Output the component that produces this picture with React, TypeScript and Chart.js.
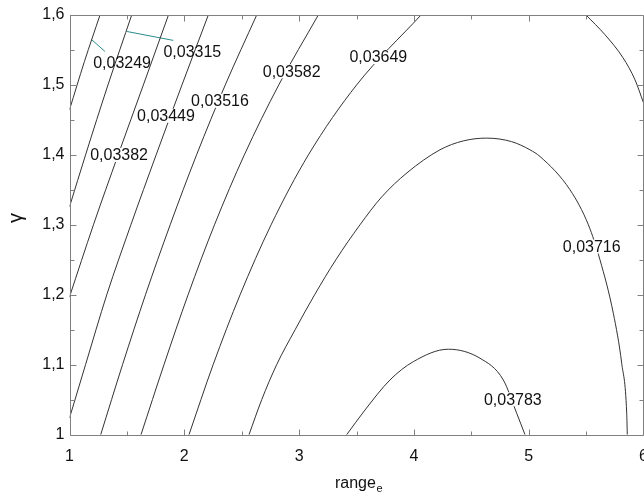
import { useEffect, useRef } from 'react';
import { Chart, registerables } from 'chart.js';

Chart.register(...registerables);

// Contour levels (labels as printed, decimal comma)
const levelLabels = ['0,03249', '0,03315', '0,03382', '0,03449', '0,03516', '0,03582', '0,03649', '0,03716', '0,03783'];

// Contour lines: [range_e, gamma] pairs
const c03249 = [[1.0, 1.4645], [1.13, 1.5335], [1.2657, 1.6]];
const c03315 = [[1.0, 1.3258], [1.14, 1.4], [1.335, 1.5], [1.5418, 1.6]];
const c03382 = [[1.0, 1.197], [1.2085, 1.3], [1.4235, 1.4], [1.6435, 1.5], [1.862, 1.6]];
const c03449 = [[1.0, 1.0239], [1.1396, 1.1], [1.3246, 1.2], [1.5346, 1.3], [1.7546, 1.4], [1.9796, 1.5], [2.2091, 1.6]];
const c03516 = [[1.2718, 1.0], [1.4618, 1.1], [1.6618, 1.2], [1.8768, 1.3], [2.1068, 1.4], [2.3568, 1.5], [2.6307, 1.6]];
const c03582 = [[1.6228, 1.0], [1.8228, 1.1], [2.0328, 1.2], [2.2628, 1.3], [2.5228, 1.4], [2.8228, 1.5], [3.1672, 1.6]];
const c03649 = [[2.0409, 1.0], [2.2509, 1.1], [2.4859, 1.2], [2.7559, 1.3], [3.0809, 1.4], [3.5009, 1.5], [4.0619, 1.6]];
const c03649b = [[5.4991, 1.6], [5.6646, 1.5718], [5.8214, 1.5389], [5.9259, 1.5074], [6.0, 1.4745]];
const c03716 = [
  [2.5636, 1.0], [2.6742, 1.05], [2.8042, 1.1], [2.965, 1.15], [3.135, 1.2], [3.32, 1.25],
  [3.53, 1.3], [3.72, 1.34], [3.9399, 1.3744], [4.2273, 1.4073], [4.43, 1.42], [4.634, 1.424],
  [4.85, 1.419], [5.0109, 1.4073], [5.0985, 1.3977], [5.3598, 1.3501], [5.52, 1.3], [5.6211, 1.2499],
  [5.7369, 1.1737], [5.8101, 1.1021], [5.8537, 1.0306], [5.8589, 1.0],
];
const c03783 = [
  [3.4146, 1.0], [3.574, 1.0353], [3.7918, 1.0783], [3.9948, 1.1044], [4.2997, 1.1222],
  [4.5758, 1.1093], [4.7787, 1.0783], [4.8955, 1.0306], [4.9678, 1.0],
];

// Leader lines for the two off-line labels
const leader03249 = [[1.193, 1.5647], [1.309, 1.5479]];
const leader03315 = [[1.4983, 1.5765], [1.9042, 1.5637]];

// Label anchor points (centres) in data units
const labelX = [1.458, 2.07, 1.432, 1.8406, 2.311, 2.9355, 3.69, 5.5488, 4.8616];
const labelY = [1.5317, 1.5483, 1.3999, 1.4559, 1.4774, 1.5193, 1.5399, 1.269, 1.0506];
const labelBreaksLine = [false, false, true, true, true, true, true, true, true];

// Axis ticks
const xMin = 1, xMax = 6, xStep = 1;
const yMin = 1, yMax = 1.6, yStep = 0.1;

const FONT = "'Liberation Sans', Arial, sans-serif";
const LINE = '#333333';
const TEAL = '#2a8c8c';
const AXIS = '#808080';

const toPts = (a: number[][]) => a.map(([x, y]) => ({ x, y }));
const fmt = (v: number) => String(Number(Number(v).toFixed(2))).replace('.', ',');

const framePlugin = {
  id: 'frame',
  afterDatasetsDraw(chart: any) {
    const { ctx, scales } = chart;
    const xs = scales.x, ys = scales.y;
    ctx.save();
    ctx.font = `16px ${FONT}`;
    ctx.textAlign = 'center';
    ctx.textBaseline = 'middle';
    levelLabels.forEach((t, i) => {
      const px = xs.getPixelForValue(labelX[i]);
      const py = ys.getPixelForValue(labelY[i]);
      if (labelBreaksLine[i]) {
        const w = ctx.measureText(t).width;
        ctx.fillStyle = '#ffffff';
        ctx.fillRect(px - w / 2 - 1, py - 7, w + 2, 14);
      }
      ctx.fillStyle = '#111111';
      ctx.fillText(t, px, py + 1);
    });
    ctx.restore();
  },
  afterDraw(chart: any) {
    const { ctx, chartArea, scales } = chart;
    const { left, right, top, bottom } = chartArea;
    const xs = scales.x, ys = scales.y;
    ctx.save();
    ctx.strokeStyle = AXIS;
    ctx.lineWidth = 1;
    const L = Math.round(left) + 0.5, R = Math.round(right) - 0.5;
    const T = Math.round(top) + 0.5, B = Math.round(bottom) + 0.5;
    ctx.beginPath();
    ctx.moveTo(L, T); ctx.lineTo(R, T); ctx.lineTo(R, B); ctx.lineTo(L, B); ctx.closePath();
    for (let i = 0; i <= (xMax - xMin) * 2; i++) {
      const v = xMin + i * 0.5;
      const px = Math.round(xs.getPixelForValue(v)) + 0.5;
      const len = i % 2 === 0 ? 6 : 4;
      ctx.moveTo(px, B); ctx.lineTo(px, B - len);
      ctx.moveTo(px, T); ctx.lineTo(px, T + len);
    }
    const ny = Math.round((yMax - yMin) / 0.05);
    for (let i = 0; i <= ny; i++) {
      const v = yMin + i * 0.05;
      const py = Math.round(ys.getPixelForValue(v)) + 0.5;
      const len = i % 2 === 0 ? 6 : 4;
      ctx.moveTo(L, py); ctx.lineTo(L + len, py);
      ctx.moveTo(R, py); ctx.lineTo(R - len, py);
    }
    ctx.stroke();

    // axis titles
    ctx.fillStyle = '#111111';
    ctx.textBaseline = 'alphabetic';
    ctx.textAlign = 'left';
    ctx.font = `16px ${FONT}`;
    const w1 = ctx.measureText('range').width;
    ctx.font = `11px ${FONT}`;
    const w2 = ctx.measureText('e').width;
    const cx = (left + right) / 2;
    const x0 = cx - (w1 + w2) / 2 + 2;
    ctx.font = `16px ${FONT}`;
    ctx.fillText('range', x0, 488);
    ctx.font = `11px ${FONT}`;
    ctx.fillText('e', x0 + w1 + 0.5, 492);

    ctx.translate(16, 218);
    ctx.rotate(-Math.PI / 2);
    ctx.textAlign = 'center';
    ctx.textBaseline = 'middle';
    ctx.font = `20px ${FONT}`;
    ctx.fillText('γ', 0, 0);
    ctx.restore();
  },
};

export default function App() {
  const ref = useRef<HTMLCanvasElement | null>(null);

  useEffect(() => {
    if (!ref.current) return;
    const line = (data: number[][], color = LINE) => ({
      data: toPts(data),
      showLine: true,
      borderColor: color,
      borderWidth: 1,
      pointRadius: 0,
      cubicInterpolationMode: color === LINE ? 'monotone' : 'default',
      tension: 0,
      fill: false,
    });
    const chart = new Chart(ref.current, {
      type: 'scatter',
      data: {
        datasets: [
          line(c03249), line(c03315), line(c03382), line(c03449), line(c03516),
          line(c03582), line(c03649), line(c03649b), line(c03716), line(c03783),
          line(leader03249, TEAL), line(leader03315, TEAL),
        ],
      } as any,
      options: {
        responsive: false,
        animation: false,
        devicePixelRatio: 1,
        layout: { padding: { top: 15, right: 0.5, left: 0, bottom: 0 } },
        plugins: { legend: { display: false }, tooltip: { enabled: false } },
        scales: {
          x: {
            type: 'linear',
            min: xMin,
            max: xMax,
            grid: { display: false, drawTicks: false },
            border: { display: false },
            ticks: { stepSize: xStep, padding: 12, color: '#111', font: { size: 16, family: FONT }, callback: (v: any) => fmt(v) },
            afterFit: (s: any) => { s.height = 61.3; s.paddingLeft = 0; s.paddingRight = 0; },
          },
          y: {
            type: 'linear',
            min: yMin,
            max: yMax,
            grid: { display: false, drawTicks: false },
            border: { display: false },
            ticks: { stepSize: yStep, padding: 5, color: '#111', font: { size: 16, family: FONT }, callback: (v: any) => fmt(v) },
            afterFit: (s: any) => { s.width = 69.5; s.paddingTop = 0; s.paddingBottom = 0; },
          },
        },
      } as any,
      plugins: [framePlugin],
    });
    return () => chart.destroy();
  }, []);

  return (
    <div style={{ position: 'absolute', left: 0, top: 0, width: 644, height: 496, background: '#fff' }}>
      <canvas ref={ref} width={644} height={496} style={{ display: 'block' }} />
    </div>
  );
}
